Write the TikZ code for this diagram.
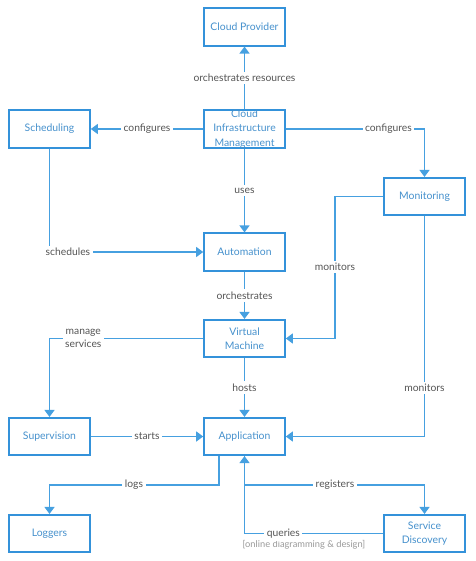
\documentclass[tikz,border=0pt]{standalone}
\usepackage{fontspec}
\setmainfont{Lato}
\usetikzlibrary{arrows.meta}

\definecolor{boxblue}{RGB}{52,146,218}
\definecolor{lineblue}{RGB}{70,160,224}
\definecolor{txtblue}{RGB}{70,145,205}
\definecolor{lblgray}{RGB}{85,85,85}

\tikzset{
  box/.style={draw=boxblue,line width=1.6pt,fill=white,minimum width=81pt,minimum height=37.5pt,
    inner sep=0pt,text=txtblue,font=\fontsize{10.4}{14.5}\selectfont,align=center},
  conn/.style={draw=lineblue,line width=1.2pt,-{Triangle[width=10pt,length=7pt]}},
  lbl/.style={fill=white,text=lblgray,font=\fontsize{10.3}{12.5}\selectfont,inner sep=2.5pt,align=center}
}

\begin{document}
\begin{tikzpicture}[x=1pt,y=-1pt]
\useasboundingbox (0,0) rectangle (475,561);

% watermark
\node[text=gray!80,font=\fontsize{9.3}{10}\selectfont,inner sep=0pt] (wm) at (304,545) {[online diagramming \& design]};

% boxes
\node[box] (cloud) at (244.5,27) {Cloud Provider};
\node[box,label={[text=txtblue,font=\fontsize{10.4}{14.5}\selectfont,align=center]center:Cloud\\Infrastructure\\Management}] (cim) at (244.5,129) {};
\node[box] (sched) at (49.5,129) {Scheduling};
\node[box] (mon) at (424.5,196.5) {Monitoring};
\node[box] (auto) at (244.5,252) {Automation};
\node[box] (vm) at (244.5,338.5) {Virtual\\Machine};
\node[box] (sup) at (49.5,436.5) {Supervision};
\node[box] (app) at (244.5,436.5) {Application};
\node[box] (log) at (49.5,533.5) {Loggers};
\node[box] (sd) at (424.5,533.5) {Service\\Discovery};

% bend points
\coordinate (monbend) at (335,267);
\coordinate (logbend) at (134,485);
\coordinate (regbend) at (335,485);

% connectors
\draw[conn] (cim) -- node[lbl]{orchestrates resources} (cloud);
\draw[conn] (cim) -- node[lbl]{configures} (sched);
\draw[conn] (cim.east) -| node[lbl,pos=0.37]{configures} (mon.north);
\draw[conn] (cim) -- node[lbl]{uses} (auto);
\draw[conn] (sched.south) |- node[lbl,pos=0.56]{schedules} (auto.west);
\draw[conn] (auto) -- node[lbl]{orchestrates} (vm);
\draw[conn] (mon.west) -| (monbend) node[lbl]{monitors} |- (vm.east);
\draw[conn] (vm.west) -| node[lbl,pos=0.39]{manage\\services} (sup.north);
\draw[conn] (vm) -- node[lbl]{hosts} (app);
\draw[conn] (mon.south) |- node[lbl,pos=0.39]{monitors} (app.east);
\draw[conn] (sup) -- node[lbl]{starts} (app);
\draw[conn] ([xshift=-25.5pt]app.south) |- (logbend) node[lbl]{logs} -| (log.north);
\draw[conn] (app.south) |- (regbend) node[lbl]{registers} -| (sd.north);
\draw[conn] (sd.west) -| node[lbl,pos=0.36]{queries} (app.south);

\end{tikzpicture}
\end{document}
